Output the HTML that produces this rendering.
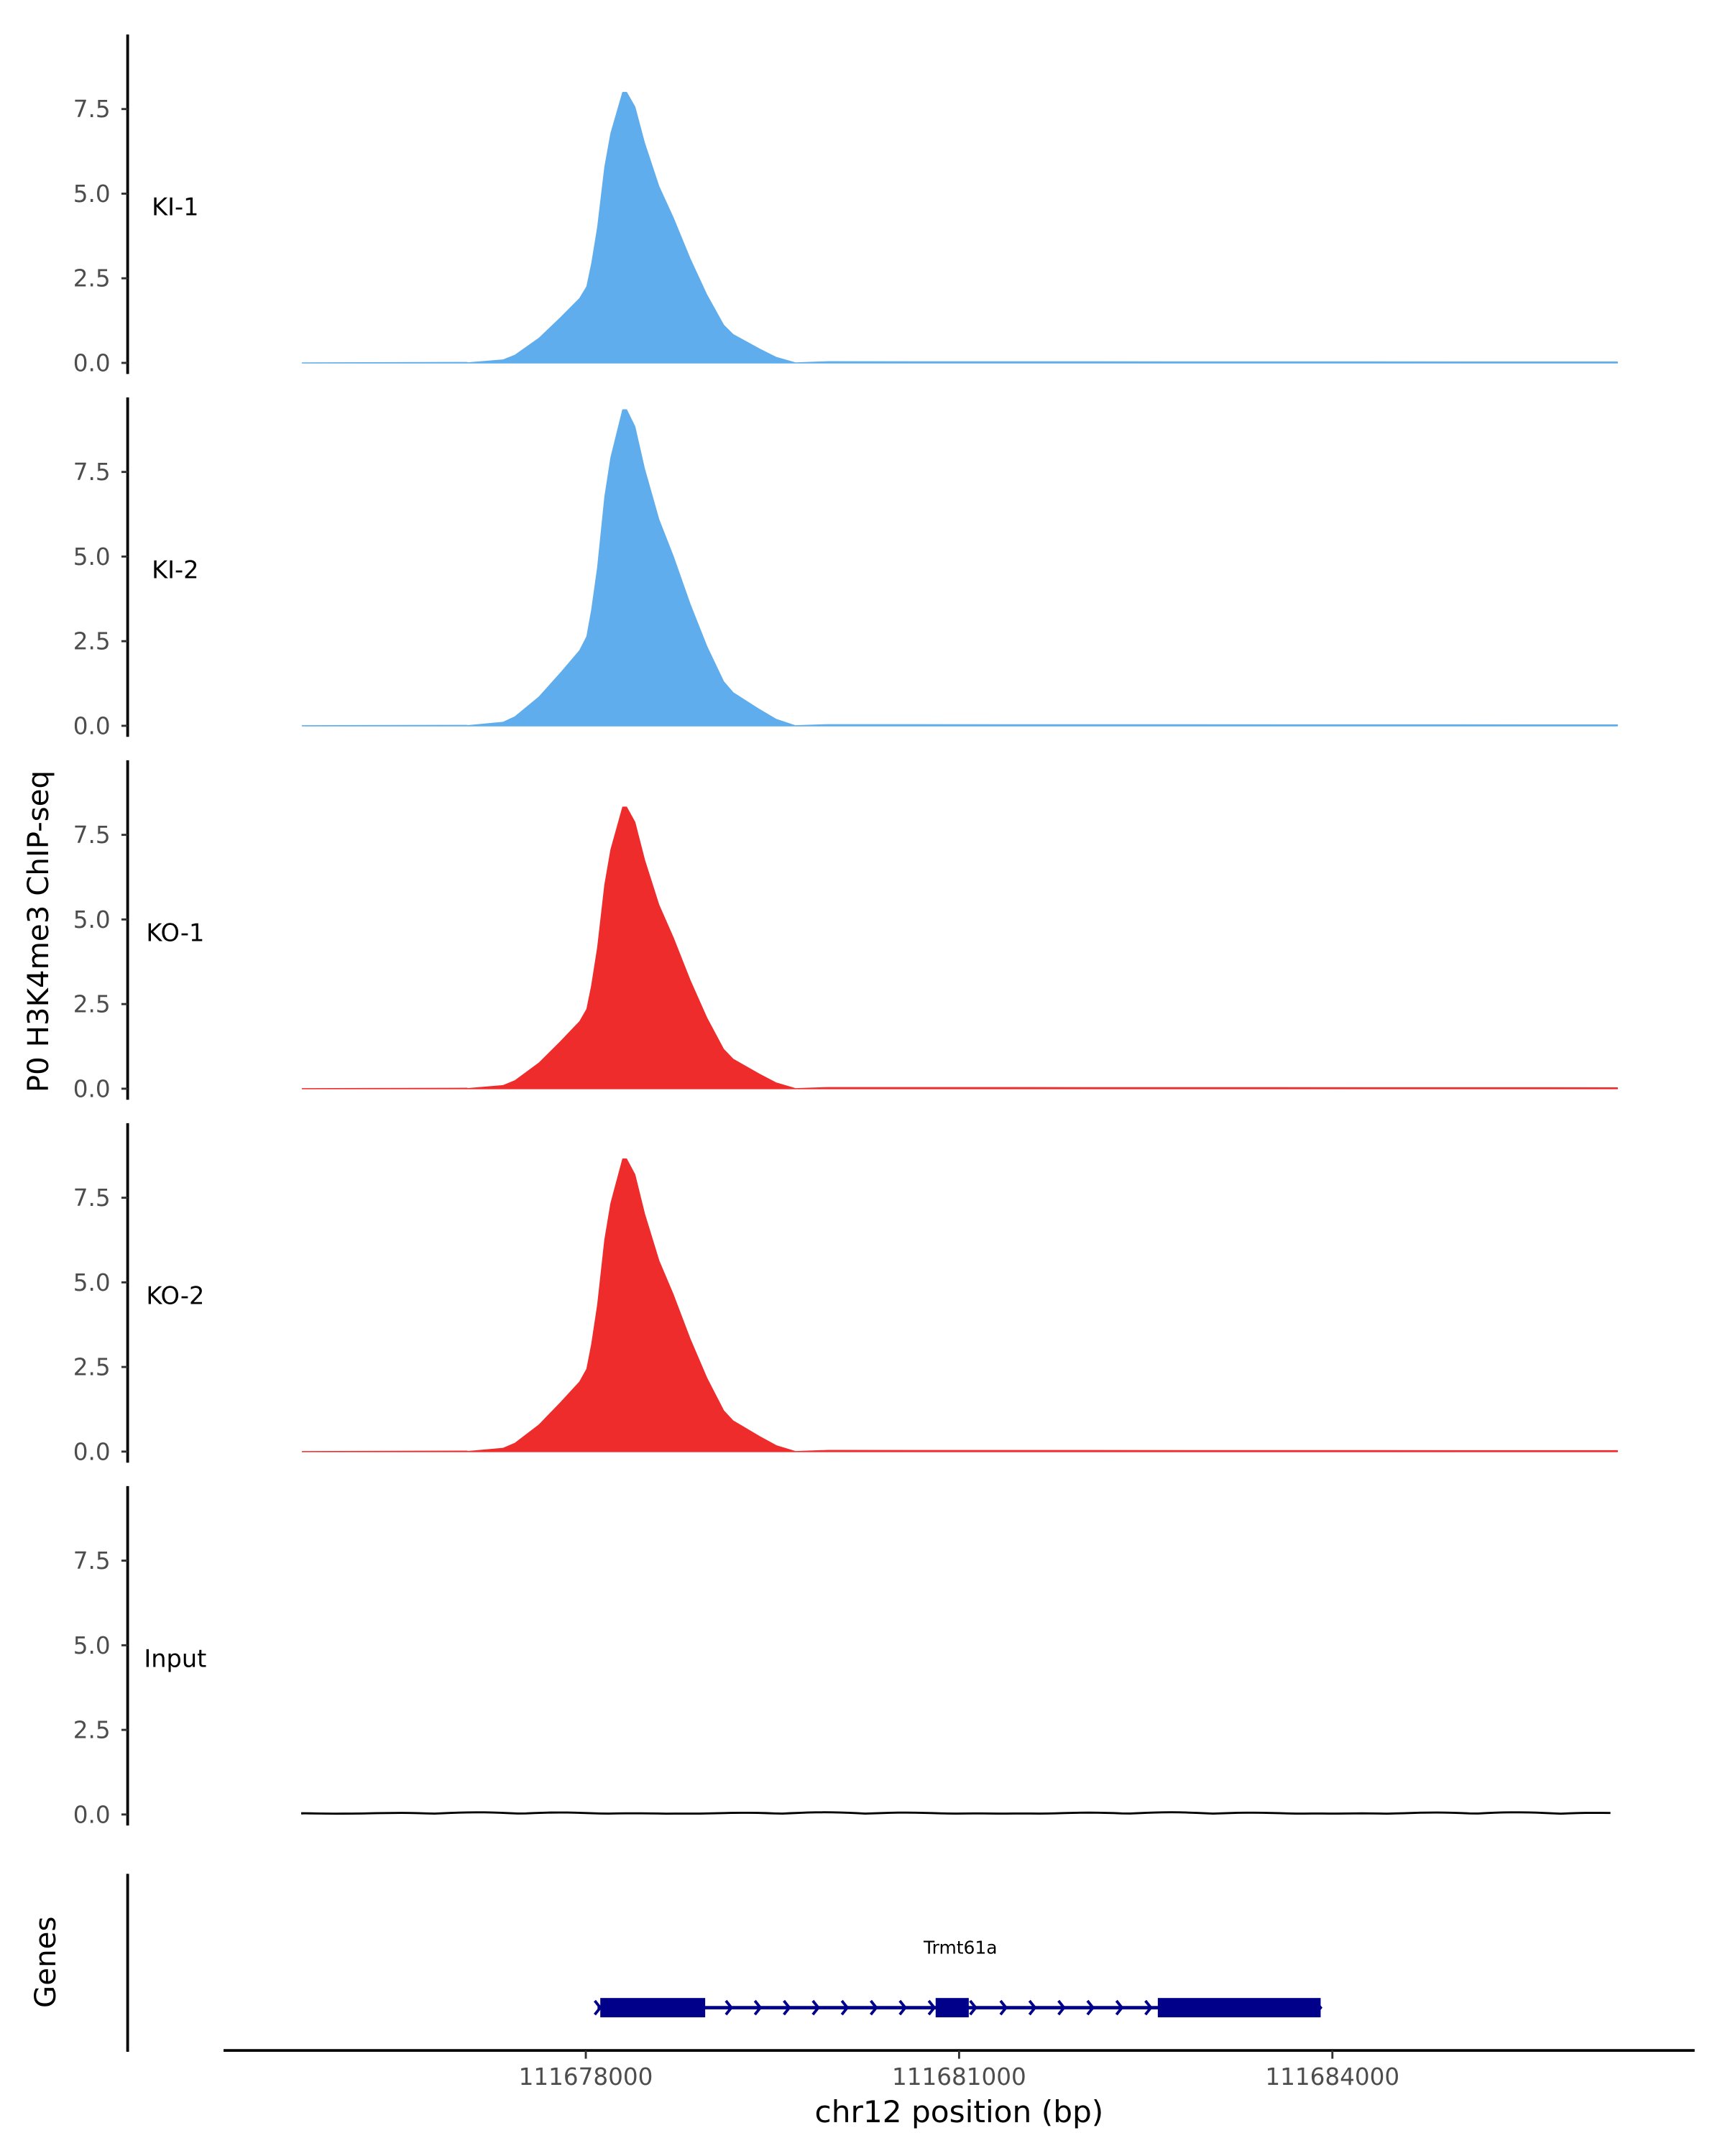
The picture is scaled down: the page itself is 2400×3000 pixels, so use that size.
<!DOCTYPE html>
<html><head><meta charset="utf-8"><style>
html,body{margin:0;padding:0;background:#fff}
svg{display:block}
text{font-family:"DejaVu Sans","Liberation Sans",sans-serif}
</style></head><body>
<svg id="s" xmlns="http://www.w3.org/2000/svg" width="2400" height="3000" viewBox="0 0 1250 1562.5">
<rect width="1250" height="1562.5" fill="#fff"/>
<g id="panels"></g>
<text x="35" y="675" font-size="21" text-anchor="middle" transform="rotate(-90 35 675)" fill="#000">P0 H3K4me3 ChIP-seq</text>
<text x="40" y="1422" font-size="21" text-anchor="middle" transform="rotate(-90 40 1422)" fill="#000">Genes</text>
<!-- genes panel -->
<line x1="92.5" y1="1358" x2="92.5" y2="1487" stroke="#000" stroke-width="2"/>
<text x="696" y="1416" font-size="13" text-anchor="middle" fill="#000">Trmt61a</text>
<line x1="433" y1="1455" x2="957" y2="1455" stroke="#00008b" stroke-width="2.5"/>
<g id="chev" fill="none" stroke="#00008b" stroke-width="2"></g>
<rect x="435" y="1448" width="76" height="14" fill="#00008b"/>
<rect x="678" y="1448" width="24" height="14" fill="#00008b"/>
<rect x="839" y="1448" width="118" height="14" fill="#00008b"/>
<!-- x axis -->
<line x1="162" y1="1486" x2="1228" y2="1486" stroke="#000" stroke-width="2"/>
<g stroke="#333" stroke-width="1.5">
<line x1="424.5" y1="1486" x2="424.5" y2="1492"/><line x1="695" y1="1486" x2="695" y2="1492"/><line x1="965.5" y1="1486" x2="965.5" y2="1492"/>
</g>
<g font-size="17" fill="#4d4d4d" text-anchor="middle">
<text x="424.5" y="1511">111678000</text><text x="695" y="1511">111681000</text><text x="965.5" y="1511">111684000</text>
</g>
<text x="695" y="1538" font-size="22" text-anchor="middle" fill="#000">chr12 position (bp)</text>
</svg>
<script>
var NS="http://www.w3.org/2000/svg";
var g=document.getElementById('panels');
function el(n,a,p){var e=document.createElementNS(NS,n);for(var k in a)e.setAttribute(k,a[k]);(p||g).appendChild(e);return e;}
var prof=[[338.5,0],[364.5,2.1],[373.2,5.5],[390.6,17.7],[406.2,32.5],[420.1,46.4],[425.3,55],[428.8,71.5],[433.1,97.6],[438.3,141],[442.7,165.3],[451.3,194.8],[454,194.8],[460,184.4],[467,158.3],[477.4,127.1],[487.8,104.5],[500,75],[512.1,49],[524.3,27.2],[531.2,20.4],[550.3,10],[562.5,3.9],[576.4,0]];
var panels=[
 {top:25,base:263,lab:"KI-1",col:"#5fadec",peak:196},
 {top:288,base:526,lab:"KI-2",col:"#5fadec",peak:229},
 {top:551,base:789,lab:"KO-1",col:"#ee2c2c",peak:204},
 {top:814,base:1052,lab:"KO-2",col:"#ee2c2c",peak:212},
 {top:1077,base:1315,lab:"Input",col:"#000",peak:0}];
panels.forEach(function(p){
 el('line',{x1:92.5,y1:p.top,x2:92.5,y2:p.base+8,stroke:"#000","stroke-width":2});
 [0,2.5,5,7.5].forEach(function(v){
  var y=p.base-v*24.53;
  el('line',{x1:88,y1:y,x2:92.5,y2:y,stroke:"#333","stroke-width":1.5});
  var t=el('text',{x:80,y:y+6,"font-size":17,fill:"#4d4d4d","text-anchor":"end"});t.textContent=v.toFixed(1);
 });
 var t=el('text',{x:127,y:p.base-107,"font-size":17.5,fill:"#000","text-anchor":"middle"});t.textContent=p.lab;
 if(p.peak>0){
  var s=p.peak/194.8;
  var d="M219,"+p.base+" L338.5,"+(p.base-0.3);
  prof.forEach(function(q){d+=" L"+q[0]+","+(p.base-q[1]*s);});
  d+=" L600,"+(p.base-0.8)+" L1172,"+(p.base-0.6)+" L1172,"+p.base+" Z";
  el('path',{d:d,fill:p.col,stroke:p.col,"stroke-width":0.8,"stroke-linejoin":"round"});
 } else {
  var d="M219,"+p.base;
  for(var x=219;x<=1172;x+=6){d+=" L"+x+","+(p.base-0.6-Math.abs(Math.sin(x*0.05)*Math.sin(x*0.013))*1.0);}
  el('path',{d:d,fill:"none",stroke:"#000","stroke-width":1.5});
 }
});
var ch=document.getElementById('chev');
var xs=[433,528,549,570,591,612,633,654,675,705,727,748,769,790,811,832,955];
xs.forEach(function(x){el('path',{d:"M"+(x-2)+",1450 L"+(x+2)+",1455 L"+(x-2)+",1460"},ch);});
</script>
</body></html>
